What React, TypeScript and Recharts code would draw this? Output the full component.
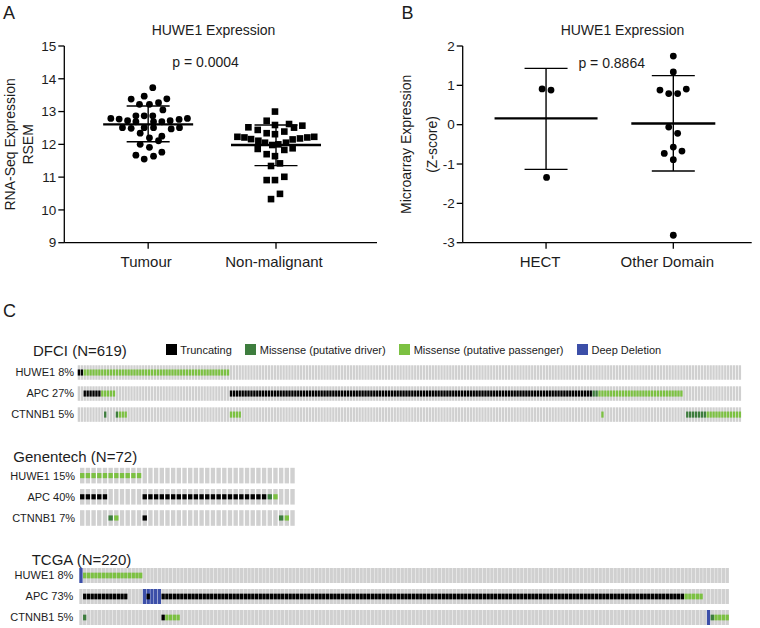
import React from "react";
import { ScatterChart, Scatter, XAxis, YAxis, ErrorBar, BarChart, Bar } from "recharts";

const FONT = '"Liberation Sans", Arial, Helvetica, sans-serif';
const INK = "#1c1c1c";

// ---------------- Panel A: RNA-Seq ----------------
const panelATitle = "HUWE1 Expression";
const panelAYLabel = ["RNA-Seq Expression", "RSEM"];
const panelAPValue = "p = 0.0004";
const panelACategories = ["Tumour", "Non-malignant"];
const panelAYTicks = [9, 10, 11, 12, 13, 14, 15];
const tumourJitter = [1.036, 0.867, 0.969, 1.146, 0.932, 1.01, 1.081, 1.115, 0.904, 0.969, 1.036, 0.708, 0.773, 0.839, 0.904, 1.042, 1.107, 1.172, 1.242, 1.307, 0.799, 0.867, 0.969, 1.042, 1.18, 1.245, 0.9375, 1.107, 1.01, 1.081, 0.9375, 1.01, 0.904, 0.969, 1.042, 1.107];
const tumourValues = [13.73, 13.38, 13.47, 13.39, 13.22, 13.22, 13.27, 13.05, 12.87, 12.87, 12.87, 12.79, 12.77, 12.72, 12.69, 12.69, 12.69, 12.72, 12.76, 12.79, 12.51, 12.49, 12.51, 12.51, 12.47, 12.51, 12.34, 12.25, 12.2, 12.11, 12.0, 11.91, 11.67, 11.55, 11.64, 11.76];
const nonMalignantJitter = [1.992, 1.927, 1.784, 1.857, 1.992, 2.102, 2.141, 2.206, 1.927, 1.992, 2.065, 1.698, 1.753, 1.805, 1.862, 2.13, 2.1875, 2.245, 2.299, 1.914, 1.971, 2.018, 2.078, 1.857, 2.065, 2.13, 1.927, 1.992, 2.031, 1.961, 2.065, 1.927, 1.992, 2.031, 1.961];
const nonMalignantValues = [13.0, 12.72, 12.52, 12.44, 12.59, 12.62, 12.51, 12.57, 12.34, 12.31, 12.39, 12.23, 12.21, 12.16, 12.11, 12.15, 12.18, 12.21, 12.23, 12.05, 11.98, 12.0, 12.05, 11.86, 11.83, 11.88, 11.7, 11.64, 11.42, 11.34, 11.01, 10.91, 10.91, 10.49, 10.33];
const panelAMeans = [12.61, 11.98];
const panelAUpper = [13.17, 12.59];
const panelALower = [12.08, 11.35];

// ---------------- Panel B: Microarray ----------------
const panelBTitle = "HUWE1 Expression";
const panelBYLabel = ["Microarray Expression", "(Z-score)"];
const panelBPValue = "p = 0.8864";
const panelBCategories = ["HECT", "Other Domain"];
const panelBYTicks = [-3, -2, -1, 0, 1, 2];
const hectJitter = [0.969, 1.039, 1.004];
const hectValues = [0.91, 0.88, -1.34];
const otherJitter = [2.0, 2.0, 1.895, 1.964, 2.034, 2.102, 1.964, 2.034, 2.0, 1.929, 2.068, 2.0, 2.0];
const otherValues = [1.745, 1.34, 0.88, 0.79, 0.79, 0.906, -0.06, -0.22, -0.57, -0.73, -0.67, -0.89, -2.81];
const panelBMeans = [0.16, 0.03];
const panelBUpper = [1.43, 1.246];
const panelBLower = [-1.136, -1.178];

// ---------------- Panel C: oncoprints ----------------
const legendLabels = ["Truncating", "Missense (putative driver)", "Missense (putative passenger)", "Deep Deletion"];
const legendKinds = ["T", "D", "P", "X"];
const oncoGenes = ["HUWE1", "APC", "CTNNB1"];

type Run = [string, number, number];

const dfciTitle = "DFCI (N=619)";
const dfciPercents = ["8%", "27%", "5%"];
const dfciSamples = 227;
const dfciHUWE1: Run[] = [["T", 0, 1], ["P", 2, 51]];
const dfciAPC: Run[] = [["T", 2, 7], ["P", 8, 12], ["T", 52, 175], ["D", 176, 177], ["P", 178, 206]];
const dfciCTNNB1: Run[] = [["D", 9, 9], ["D", 13, 13], ["P", 14, 16], ["P", 52, 55], ["P", 179, 179], ["D", 208, 214], ["P", 215, 226]];

const genentechTitle = "Genentech (N=72)";
const genentechPercents = ["15%", "40%", "7%"];
const genentechSamples = 38;
const genentechHUWE1: Run[] = [["P", 0, 10]];
const genentechAPC: Run[] = [["T", 0, 4], ["T", 11, 32], ["D", 33, 33], ["P", 34, 34]];
const genentechCTNNB1: Run[] = [["D", 5, 5], ["P", 6, 6], ["T", 11, 11], ["D", 35, 35], ["P", 36, 36]];

const tcgaTitle = "TCGA (N=220)";
const tcgaPercents = ["8%", "73%", "5%"];
const tcgaSamples = 174;
const tcgaHUWE1: Run[] = [["X", 0, 0], ["P", 1, 16]];
const tcgaAPC: Run[] = [["T", 1, 12], ["X", 17, 17], ["XT", 18, 18], ["X", 19, 21], ["T", 22, 161], ["P", 162, 166]];
const tcgaCTNNB1: Run[] = [["D", 1, 1], ["T", 22, 22], ["P", 23, 26], ["X", 168, 168], ["D", 169, 169], ["P", 170, 173]];

// ---------------- styles ----------------
const COLORS: Record<string, string> = {
  T: "#000000",
  D: "#3e7d3e",
  P: "#7cc142",
  X: "#3c4fa8",
  bg: "#d0d0d0",
};

function buildOncoTable(samples: number, runs: Run[][]) {
  const rows: any[] = [];
  for (let i = 0; i < samples; i++) {
    const row: any = { sample: i };
    oncoGenes.forEach((g) => {
      row[g] = 1;
      row[g + "Kind"] = "none";
    });
    rows.push(row);
  }
  runs.forEach((list, gi) => {
    list.forEach(([kind, from, to]) => {
      for (let i = from; i <= to; i++) rows[i][oncoGenes[gi] + "Kind"] = kind;
    });
  });
  return rows;
}

function OncoCell(props: any) {
  const { x, y, width, height, kind, inset, frac } = props;
  if (width == null || height == null) return null;
  const top = y + inset;
  const h = Math.max(height - 2 * inset, 0);
  const del = kind === "X" || kind === "XT";
  const mut = kind === "XT" ? "T" : kind === "T" || kind === "D" || kind === "P" ? kind : null;
  const mh = h * frac;
  return (
    <g>
      <rect x={x} y={top} width={width} height={h} fill={del ? COLORS.X : COLORS.bg} />
      {mut ? <rect x={x} y={top + (h - mh) / 2} width={width} height={mh} fill={COLORS[mut]} /> : null}
    </g>
  );
}

type OncoLayout = { left: number; right: number; top: number; height: number; inset: number; frac: number; gap: number; labelGap: number };

function Oncoprint({ samples, runs, percents, layout }: { samples: number; runs: Run[][]; percents: string[]; layout: OncoLayout }) {
  const data = buildOncoTable(samples, runs);
  const band = (layout.right - layout.left) / samples;
  const chartWidth = 760;
  const labelFor = (v: number) => {
    const idx = Math.floor(3 - v);
    return `${oncoGenes[idx]} ${percents[idx]}`;
  };
  const RowTick = (p: any) => (
    <text x={p.x} y={p.y} dy="0.355em" textAnchor="end" fontSize={11} fill={INK} fontFamily={FONT}>
      {labelFor(p.payload.value)}
    </text>
  );
  const stackOrder = [...oncoGenes].reverse();
  return (
    <div style={{ position: "absolute", left: 0, top: layout.top }}>
      <BarChart
        width={chartWidth}
        height={layout.height}
        data={data}
        margin={{ top: 0, right: chartWidth - layout.right, bottom: 0, left: 0 }}
        barCategoryGap={0}
        barGap={0}
        barSize={band - layout.gap}
      >
        <XAxis dataKey="sample" type="category" hide />
        <YAxis
          type="number"
          domain={[0, 3]}
          ticks={[0.5, 1.5, 2.5]}
          interval={0}
          width={layout.left}
          axisLine={false}
          tickLine={false}
          tickSize={0}
          tickMargin={layout.labelGap}
          tick={<RowTick />}
        />
        {stackOrder.map((g) => (
          <Bar
            key={g}
            dataKey={g}
            stackId="rows"
            isAnimationActive={false}
            shape={(p: any) => <OncoCell {...p} kind={p.payload ? p.payload[g + "Kind"] : "none"} inset={layout.inset} frac={layout.frac} />}
          />
        ))}
      </BarChart>
    </div>
  );
}

const dotShape = (p: any) => <circle cx={p.cx} cy={p.cy} r={3.4} fill="#000" />;
const squareShape = (p: any) => <rect x={p.cx - 3.3} y={p.cy - 3.3} width={6.6} height={6.6} fill="#000" />;
const meanShape = (halfWidths: number[]) => (p: any) =>
  <line x1={p.cx - halfWidths[(p.payload?.x ?? 1) - 1]} x2={p.cx + halfWidths[(p.payload?.x ?? 1) - 1]} y1={p.cy} y2={p.cy} stroke="#000" strokeWidth={2.3} />;

const axisStroke = { stroke: "#000", strokeWidth: 1.3 };

function DotPanel(props: {
  left: number;
  yAxisWidth: number;
  marginRight: number;
  xDomain: [number, number];
  yDomain: [number, number];
  yTicks: number[];
  categories: string[];
  groups: { x: number; y: number }[][];
  shapes: any[];
  summary: { x: number; y: number; err: number[] }[];
  meanHalfWidths: number[];
  xTickDx: number;
}) {
  return (
    <div style={{ position: "absolute", left: props.left, top: 0 }}>
      <ScatterChart width={380} height={290} margin={{ top: 46, right: props.marginRight, bottom: 17.3, left: 0 }}>
        <XAxis
          type="number"
          dataKey="x"
          domain={props.xDomain}
          ticks={[1, 2]}
          interval={0}
          allowDataOverflow
          height={30}
          tickSize={6}
          tickMargin={7.3}
          axisLine={axisStroke}
          tickLine={axisStroke}
          tickFormatter={(v: number) => props.categories[v - 1]}
          tick={{ fontSize: 15, fill: INK, fontFamily: FONT, dx: props.xTickDx }}
        />
        <YAxis
          type="number"
          dataKey="y"
          domain={props.yDomain}
          ticks={props.yTicks}
          interval={0}
          allowDataOverflow
          width={props.yAxisWidth}
          tickSize={6}
          tickMargin={2}
          axisLine={axisStroke}
          tickLine={axisStroke}
          tick={{ fontSize: 13.5, fill: INK, fontFamily: FONT }}
        />
        {props.groups.map((g, i) => (
          <Scatter key={i} data={g} isAnimationActive={false} shape={props.shapes[i]} />
        ))}
        <Scatter data={props.summary} isAnimationActive={false} shape={meanShape(props.meanHalfWidths)}>
          <ErrorBar dataKey="err" direction="y" width={21.5} stroke="#000" strokeWidth={1.4} />
        </Scatter>
      </ScatterChart>
    </div>
  );
}

export default function App() {
  const aGroups = [
    tumourJitter.map((x, i) => ({ x, y: tumourValues[i] })),
    nonMalignantJitter.map((x, i) => ({ x, y: nonMalignantValues[i] })),
  ];
  const aSummary = panelAMeans.map((m, i) => ({ x: i + 1, y: m, err: [m - panelALower[i], panelAUpper[i] - m] }));
  const bGroups = [
    hectJitter.map((x, i) => ({ x, y: hectValues[i] })),
    otherJitter.map((x, i) => ({ x, y: otherValues[i] })),
  ];
  const bSummary = panelBMeans.map((m, i) => ({ x: i + 1, y: m, err: [m - panelBLower[i], panelBUpper[i] - m] }));

  const textStyle = { fontFamily: FONT, fill: INK } as const;

  return (
    <div style={{ position: "absolute", left: 0, top: 0, width: 760, height: 628, overflow: "hidden", background: "#fff", fontFamily: FONT }}>
      <DotPanel
        left={0}
        yAxisWidth={64.3}
        marginRight={3}
        xDomain={[0.344, 2.79]}
        yDomain={[9, 15]}
        yTicks={panelAYTicks}
        categories={panelACategories}
        groups={aGroups}
        shapes={[dotShape, squareShape]}
        summary={aSummary}
        meanHalfWidths={[45, 45]}
        xTickDx={-2}
      />
      <DotPanel
        left={380}
        yAxisWidth={82.7}
        marginRight={8.3}
        xDomain={[0.345, 2.616]}
        yDomain={[-3, 2]}
        yTicks={panelBYTicks}
        categories={panelBCategories}
        groups={bGroups}
        shapes={[dotShape, dotShape]}
        summary={bSummary}
        meanHalfWidths={[51.5, 42]}
        xTickDx={-6}
      />

      <Oncoprint
        samples={dfciSamples}
        runs={[dfciHUWE1, dfciAPC, dfciCTNNB1]}
        percents={dfciPercents}
        layout={{ left: 77.7, right: 741.7, top: 361.8, height: 63.1, inset: 3.27, frac: 0.42, gap: 0.6, labelGap: 3.7 }}
      />
      <Oncoprint
        samples={genentechSamples}
        runs={[genentechHUWE1, genentechAPC, genentechCTNNB1]}
        percents={genentechPercents}
        layout={{ left: 79, right: 295, top: 464.9, height: 63.6, inset: 2.8, frac: 0.33, gap: 1.3, labelGap: 4 }}
      />
      <Oncoprint
        samples={tcgaSamples}
        runs={[tcgaHUWE1, tcgaAPC, tcgaCTNNB1]}
        percents={tcgaPercents}
        layout={{ left: 79.3, right: 729.3, top: 565.3, height: 63, inset: 3, frac: 0.38, gap: 0.4, labelGap: 6 }}
      />

      {/* legend */}
      <div style={{ position: "absolute", left: 165.7, top: 343.5, display: "flex", alignItems: "center", fontSize: 11, color: INK, whiteSpace: "nowrap" }}>
        {legendLabels.map((label, i) => (
          <div key={label} style={{ display: "flex", alignItems: "center", marginRight: 13.5 }}>
            <div style={{ width: 11, height: 11, background: COLORS[legendKinds[i]], marginRight: 3.5 }} />
            <span>{label}</span>
          </div>
        ))}
      </div>

      {/* titles and annotations */}
      <svg width={760} height={628} style={{ position: "absolute", left: 0, top: 0, pointerEvents: "none" }}>
        <text x={3} y={18.5} fontSize={18} {...textStyle}>A</text>
        <text x={401.5} y={18.5} fontSize={18} {...textStyle}>B</text>
        <text x={3} y={317} fontSize={18} {...textStyle}>C</text>

        <text x={213.5} y={35} fontSize={14} textAnchor="middle" {...textStyle}>{panelATitle}</text>
        <text x={205.5} y={67} fontSize={14} textAnchor="middle" {...textStyle}>{panelAPValue}</text>
        <text transform="translate(15,144.4) rotate(-90)" fontSize={14} textAnchor="middle" {...textStyle}>{panelAYLabel[0]}</text>
        <text transform="translate(32.5,144.4) rotate(-90)" fontSize={14} textAnchor="middle" {...textStyle}>{panelAYLabel[1]}</text>

        <text x={622.5} y={35} fontSize={14} textAnchor="middle" {...textStyle}>{panelBTitle}</text>
        <text x={611.7} y={68} fontSize={14} textAnchor="middle" {...textStyle}>{panelBPValue}</text>
        <text transform="translate(410.7,144.4) rotate(-90)" fontSize={14} textAnchor="middle" {...textStyle}>{panelBYLabel[0]}</text>
        <text transform="translate(436.7,144.4) rotate(-90)" fontSize={14} textAnchor="middle" {...textStyle}>{panelBYLabel[1]}</text>

        <text x={33} y={356} fontSize={15} {...textStyle}>{dfciTitle}</text>
        <text x={13.3} y={461.5} fontSize={15} {...textStyle}>{genentechTitle}</text>
        <text x={31.7} y={564.5} fontSize={15} {...textStyle}>{tcgaTitle}</text>
      </svg>
    </div>
  );
}
